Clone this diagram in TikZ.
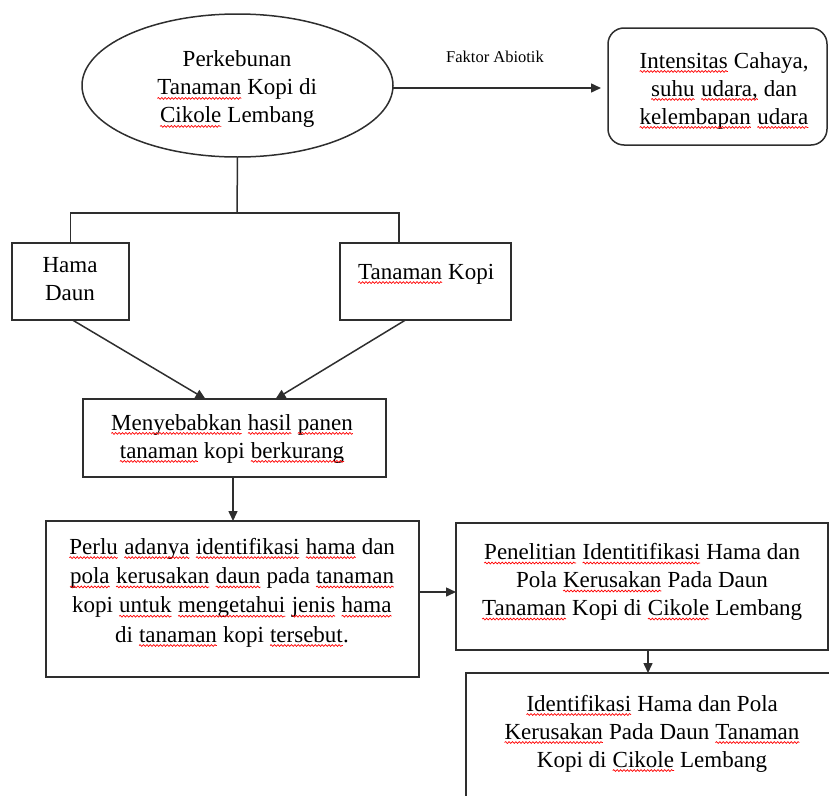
\documentclass[tikz,border=0pt]{standalone}
\usepackage{fontspec}
\setmainfont{Liberation Serif}
\usetikzlibrary{shapes.geometric,arrows.meta,decorations.pathmorphing}
\newcommand\sqg[1]{\tikz[baseline=(sqw.base)]{\node[inner sep=0pt,outer sep=0pt,anchor=base,draw=none](sqw){#1};\draw[red,line width=0.7pt,decorate,decoration={snake,amplitude=0.9pt,segment length=3.4pt}] ([yshift=-3.4pt]sqw.base west) -- ([yshift=-3.4pt]sqw.base east);}}
\tikzset{
  ln/.style={line width=1.5pt,draw=black!82},
  arr/.style={ln,-{Triangle[length=10pt,width=9pt]}},
  boxs/.style={ln,rectangle,inner sep=0pt,outer sep=0pt},
  txt/.style={inner sep=0pt,align=center,font=\fontsize{23}{28}\selectfont},
  small/.style={inner sep=0pt,font=\fontsize{16.5}{19}\selectfont}
}
\begin{document}
\begin{tikzpicture}[x=1pt,y=-1pt]
\useasboundingbox (0,0) rectangle (829,795);
\clip (0,0) rectangle (829,795);
% shapes
\node[ln,ellipse,minimum width=311pt,minimum height=143pt,inner sep=0pt,outer sep=0pt] (ell) at (237.5,85.5) {};
\node[ln,rectangle,rounded corners=16pt,minimum width=219pt,minimum height=117pt,inner sep=0pt,outer sep=0pt] (rb) at (717.5,86.5) {};
\node[boxs,minimum width=117pt,minimum height=77pt] (hama) at (70.5,281.5) {};
\node[boxs,minimum width=171pt,minimum height=77pt] (tk) at (425.5,281.5) {};
\node[boxs,minimum width=303pt,minimum height=78pt] (mb) at (234.5,438) {};
\node[boxs,minimum width=373pt,minimum height=156pt] (perlu) at (232.5,599) {};
\node[boxs,minimum width=372pt,minimum height=127pt] (pen) at (642,586.5) {};
\node[boxs,minimum width=374pt,minimum height=147pt] (ident) at (653,746.5) {};
% texts
\node[txt] (ellT) at (237,89.5) {Perkebunan\\\sqg{Tanaman} Kopi di\\\sqg{Cikole} Lembang};
\node[txt] (rbT) at (724,90.5) {\sqg{Intensitas} Cahaya,\\\sqg{suhu} \sqg{udara,} dan\\\sqg{kelembapan} \sqg{udara}};
\node[txt] (hamaT) at (70,279) {Hama\\Daun};
\node[txt] (tkT) at (426,274) {\sqg{Tanaman} Kopi};
\node[txt] (mbT) at (232,438.5) {\sqg{Menyebabkan} \sqg{hasil} \sqg{panen}\\\sqg{tanaman} kopi \sqg{berkurang}};
\node[txt,font=\fontsize{23}{29.3}\selectfont] (perluT) at (232,592.5) {\sqg{Perlu} \sqg{adanya} \sqg{identifikasi} \sqg{hama} dan\\\sqg{pola} \sqg{kerusakan} \sqg{daun} pada \sqg{tanaman}\\kopi \sqg{untuk} \sqg{mengetahui} \sqg{jenis} \sqg{hama}\\di \sqg{tanaman} kopi \sqg{tersebut}.};
\node[txt] (penT) at (642,582) {\sqg{Penelitian} \sqg{Identitifikasi} Hama dan\\Pola \sqg{Kerusakan} Pada Daun\\\sqg{Tanaman} Kopi di \sqg{Cikole} Lembang};
\node[txt] (identT) at (652,733.5) {\sqg{Identifikasi} Hama dan Pola\\\sqg{Kerusakan} Pada Daun \sqg{Tanaman}\\Kopi di \sqg{Cikole} Lembang};
\node[small] (fak) at (495,57) {Faktor Abiotik};
% connectors
\coordinate (j) at (237,213);
\coordinate (jr) at (399,213);
\draw[ln] (ell.south) -- (j);
\draw[ln] (hama.north) -- (hama.north |- j) -- (jr) -- (jr |- tk.north);
\draw[arr,shorten >=7pt] ([yshift=-2.5pt]ell.east) -- ([yshift=-2.5pt]ell.east -| rb.west);
\draw[arr] ([xshift=2pt]hama.south) -- ([xshift=-29pt]mb.north);
\draw[arr] ([xshift=-20pt]tk.south) -- ([xshift=41pt]mb.north);
\draw[arr] ([xshift=-1.5pt]mb.south) -- ([xshift=-1.5pt]mb.south |- perlu.north);
\draw[arr] ([yshift=7pt]perlu.east) -- ([yshift=7pt]perlu.east -| pen.west);
\draw[arr] ([xshift=6pt]pen.south) -- ([xshift=6pt]pen.south |- ident.north);
\end{tikzpicture}
\end{document}
